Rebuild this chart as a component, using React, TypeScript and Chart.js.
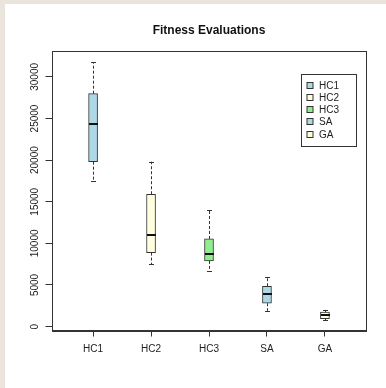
import React, { useEffect, useRef } from "react";
import { Chart, registerables } from "chart.js";

Chart.register(...registerables);

const categories = ["HC1", "HC2", "HC3", "SA", "GA"];
const whiskerLow = [17500, 7490, 6725, 1885, 770];
const q1 = [19815, 8890, 7890, 2810, 960];
const medians = [24340, 11010, 8730, 3890, 1370];
const q3 = [27980, 15900, 10530, 4850, 1730];
const whiskerHigh = [31750, 19815, 13980, 5930, 2005];
const boxColors = ["#ADD8E6", "#FFFFE0", "#90EE90", "#ADD8E6", "#FFFFE0"];
const yTickValues = [0, 5000, 10000, 15000, 20000, 25000, 30000];
const legendLabels = ["HC1", "HC2", "HC3", "SA", "GA"];
const legendColors = ["#ADD8E6", "#FFFFE0", "#90EE90", "#ADD8E6", "#FFFFE0"];

const FONT = "'Liberation Sans', Arial, sans-serif";
const INK = "#333333";

const dataMin = Math.min(...whiskerLow);
const dataMax = Math.max(...whiskerHigh);
const ext = (dataMax - dataMin) * 0.04;

const boxPlugin = {
  id: "boxExtras",
  afterDatasetsDraw(chart: any) {
    const ctx = chart.ctx;
    const xs = chart.scales.x;
    const ys = chart.scales.y;
    ctx.save();
    ctx.strokeStyle = INK;
    for (let i = 0; i < categories.length; i++) {
      const x = Math.round(xs.getPixelForValue(i + 1)) + 0.5;
      const yLo = ys.getPixelForValue(whiskerLow[i]);
      const yQ1 = ys.getPixelForValue(q1[i]);
      const yQ3 = ys.getPixelForValue(q3[i]);
      const yHi = ys.getPixelForValue(whiskerHigh[i]);
      const yMed = ys.getPixelForValue(medians[i]);
      ctx.lineWidth = 1;
      ctx.setLineDash([3, 2]);
      ctx.beginPath();
      ctx.moveTo(x, yQ3);
      ctx.lineTo(x, yHi);
      ctx.moveTo(x, yQ1);
      ctx.lineTo(x, yLo);
      ctx.stroke();
      ctx.setLineDash([]);
      ctx.beginPath();
      ctx.moveTo(x - 2.5, Math.round(yHi) + 0.5);
      ctx.lineTo(x + 2.5, Math.round(yHi) + 0.5);
      ctx.moveTo(x - 2.5, Math.round(yLo) + 0.5);
      ctx.lineTo(x + 2.5, Math.round(yLo) + 0.5);
      ctx.stroke();
      ctx.lineWidth = 2;
      ctx.strokeStyle = "#111";
      ctx.beginPath();
      ctx.moveTo(x - 4.5, Math.round(yMed));
      ctx.lineTo(x + 4.5, Math.round(yMed));
      ctx.stroke();
      ctx.strokeStyle = INK;
    }
    ctx.restore();
  },
  afterDraw(chart: any) {
    const ctx = chart.ctx;
    const ca = chart.chartArea;
    ctx.save();
    ctx.strokeStyle = INK;
    ctx.lineWidth = 1;
    ctx.strokeRect(Math.round(ca.left) - 0.5, Math.round(ca.top) - 0.5, Math.round(ca.right) - Math.round(ca.left) + 1, Math.round(ca.bottom) - Math.round(ca.top) + 1);
    const lx = Math.round(ca.right - 65) + 0.5;
    const ly = Math.round(ca.top + 22) + 0.5;
    const lw = 55;
    const lh = 72;
    ctx.fillStyle = "#ffffff";
    ctx.fillRect(lx, ly, lw, lh);
    ctx.strokeStyle = INK;
    ctx.strokeRect(lx, ly, lw, lh);
    ctx.font = `10px ${FONT}`;
    ctx.textBaseline = "middle";
    ctx.textAlign = "left";
    for (let i = 0; i < legendLabels.length; i++) {
      const cy = Math.round(ly + 11 + i * 12.3);
      ctx.fillStyle = legendColors[i];
      ctx.fillRect(lx + 5.5, cy - 3.5, 6, 6);
      ctx.strokeStyle = INK;
      ctx.strokeRect(lx + 5.5, cy - 3.5, 6, 6);
      ctx.fillStyle = "#222";
      ctx.fillText(legendLabels[i], lx + 17.5, cy + 0.5);
    }
    ctx.restore();
  },
};

export default function App() {
  const ref = useRef<HTMLCanvasElement>(null);
  useEffect(() => {
    if (!ref.current) return;
    const chart = new Chart(ref.current, {
      type: "bar",
      data: {
        datasets: [
          {
            data: categories.map((_, i) => ({ x: i + 1, y: [q1[i], q3[i]] })) as any,
            backgroundColor: boxColors,
            borderColor: INK,
            borderWidth: 1,
            borderSkipped: false,
            barThickness: 9,
          },
        ],
      },
      options: {
        animation: false,
        responsive: false,
        layout: { padding: { left: 0, right: 20.5, top: 0, bottom: 0 } },
        plugins: {
          legend: { display: false },
          tooltip: { enabled: false },
          title: {
            display: true,
            text: "Fitness Evaluations",
            fullSize: false,
            color: "#111",
            font: { size: 12, weight: "bold", family: FONT },
            padding: { top: 19.8, bottom: 13.8 },
          },
        },
        scales: {
          x: {
            type: "linear",
            offset: false,
            min: 0.3,
            max: 5.7,
            afterBuildTicks: (s: any) => {
              s.ticks = categories.map((_, i) => ({ value: i + 1 }));
            },
            afterFit: (s: any) => {
              s.height = 57.5;
            },
            ticks: {
              autoSkip: false,
              maxRotation: 0,
              minRotation: 0,
              padding: 7,
              color: "#222",
              font: { size: 10, family: FONT },
              callback: (v: any) => categories[Math.round(v) - 1] ?? "",
            },
            grid: { offset: false, drawOnChartArea: false, drawTicks: true, tickLength: 6, color: INK },
            border: { display: true, color: INK },
          },
          y: {
            type: "linear",
            min: dataMin - ext,
            max: dataMax + ext,
            afterBuildTicks: (s: any) => {
              s.ticks = yTickValues.map((v) => ({ value: v }));
            },
            afterFit: (s: any) => {
              s.width = 47.5;
            },
            ticks: {
              autoSkip: false,
              minRotation: 90,
              maxRotation: 90,
              crossAlign: "center",
              padding: -3.4,
              color: "#222",
              font: { size: 10, family: FONT },
              callback: (v: any) => String(v),
            },
            grid: { drawOnChartArea: false, drawTicks: true, tickLength: 7, color: INK },
            border: { display: true, color: INK },
          },
        },
      } as any,
      plugins: [boxPlugin],
    });
    return () => chart.destroy();
  }, []);

  return (
    <div style={{ position: "absolute", left: 0, top: 0, width: 386, height: 388, background: "#EAE4DC", overflow: "hidden" }}>
      <div style={{ position: "absolute", left: 5, top: 4, width: 381, height: 384, background: "#ffffff" }}>
        <canvas ref={ref} width={381} height={384} style={{ display: "block" }} />
      </div>
    </div>
  );
}
